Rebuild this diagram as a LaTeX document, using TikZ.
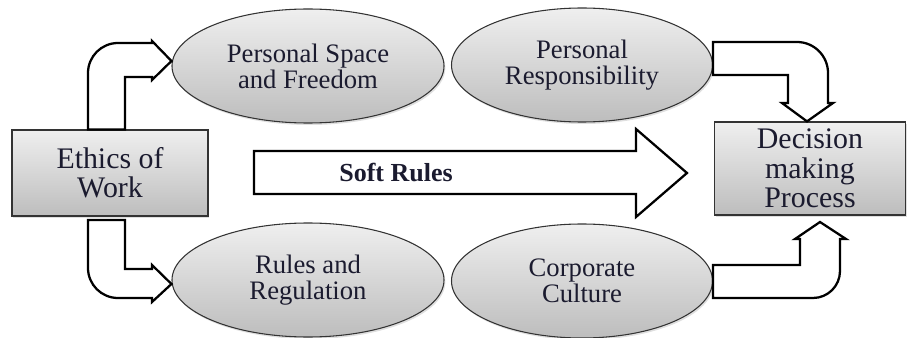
\documentclass[tikz,border=0pt]{standalone}
\usepackage{fontspec}
\setmainfont{Liberation Serif}
\usetikzlibrary{shapes.geometric,shadows}
\definecolor{ink}{HTML}{1B1B2F}
\definecolor{rim}{HTML}{333333}
\definecolor{shadetop}{HTML}{EFEFEF}
\definecolor{shadebot}{HTML}{BDBDBD}
\tikzset{
  factor/.style={
    ellipse,draw=rim,line width=0.8pt,top color=shadetop,bottom color=shadebot,
    inner sep=0pt,minimum height=85.5pt,align=center,text=ink,
    font=\fontsize{20}{19.5}\selectfont,
    drop shadow={opacity=0.25,shadow xshift=1pt,shadow yshift=-1.5pt}
  },
  panel/.style={
    rectangle,draw=rim,line width=0.9pt,top color=shadetop,bottom color=shadebot,
    inner sep=0pt,align=center,text=ink,
    font=\fontsize{22.4}{22}\selectfont,
    drop shadow={opacity=0.25,shadow xshift=1pt,shadow yshift=-1.5pt}
  },
  blockarrow/.style={draw=black,fill=white,line width=1.7pt,line join=miter},
  softlabel/.style={font=\bfseries\fontsize{19.5}{20}\selectfont,text=ink}
}
\begin{document}
\begin{tikzpicture}[x=0.75pt,y=-0.75pt]
\useasboundingbox (0,0) rectangle (909,338);

% boxes at both ends
\node[panel,minimum width=147pt,minimum height=64.5pt] (ethics) at (110,173) {Ethics of\\Work};
\node[panel,minimum width=143pt,minimum height=69.75pt] (decision) at (810,168.5) {Decision\\making\\Process};

% the four factors
\node[factor,minimum width=204pt] (space) at (308,66) {Personal Space\\and Freedom};
\node[factor,minimum width=195.75pt] (resp) at (582,65) {Personal\\Responsibility};
\node[factor,minimum width=204pt] (rules) at (308,280) {Rules and\\Regulation};
\node[factor,minimum width=195.75pt] (culture) at (582,281) {Corporate\\Culture};

% bent arrows
\draw[blockarrow] (ethics.north -| 88,0) -- (88,73)
  .. controls (88,56.4) and (101.4,43) .. (118,43)
  -- (152,43) -- (152,41) -- (space.west |- 0,61) -- (152,80) -- (152,77)
  -- (125,77) -- (ethics.north -| 125,0) -- cycle;
\draw[blockarrow] (88,220) -- (88,268)
  .. controls (88,284.6) and (101.4,298) .. (118,298)
  -- (152,298) -- (152,302) -- (rules.west |- 0,284) -- (152,265) -- (152,269)
  -- (125,269) -- (125,220) -- cycle;
\draw[blockarrow] (resp.east |- 0,42) -- (797,42)
  .. controls (814.1,42) and (828,55.9) .. (828,73)
  -- (828,103) -- (833,103) -- (decision.north -| 807,0) -- (782,103) -- (788,103)
  -- (788,75) -- (resp.east |- 0,75) -- cycle;
\draw[blockarrow] (culture.east |- 0,298) -- (813,298)
  .. controls (827.9,298) and (840,285.9) .. (840,271)
  -- (840,239) -- (846,239) -- (820,222) -- (795,239) -- (800,239)
  -- (800,265) -- (culture.east |- 0,265) -- cycle;

% main flow
\draw[blockarrow] (254,151) -- (636,151) -- (636,129) -- (687,173)
  -- (636,217) -- (636,194) -- (254,194) -- cycle;
\node[softlabel] (soft) at (396,173) {Soft Rules};

\end{tikzpicture}
\end{document}
